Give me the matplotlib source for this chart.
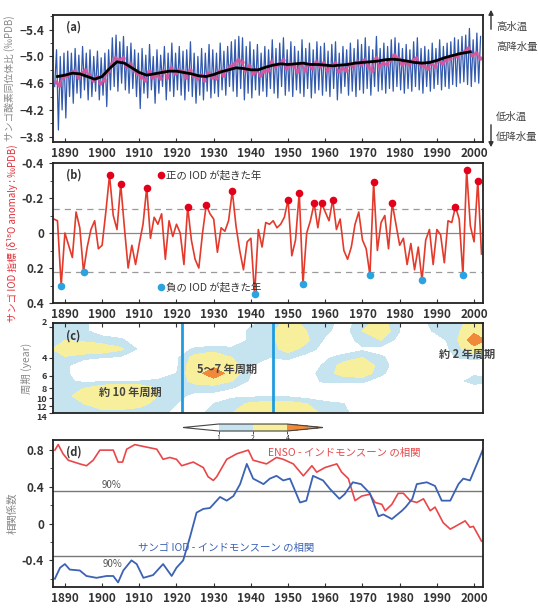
import numpy as np
import matplotlib
matplotlib.use("Agg")
import matplotlib.pyplot as plt
from matplotlib.colors import ListedColormap, BoundaryNorm
from matplotlib.ticker import MultipleLocator

plt.rcParams['font.family'] = ['Liberation Sans Narrow', 'Noto Sans CJK JP', 'DejaVu Sans']
JP = ['Noto Sans CJK JP', 'DejaVu Sans']

# ---------------- data ----------------
years = list(range(1887, 2002))  # 1887..2001

# (a) coral d18O: annual extremes of the seasonal cycle (blue), annual mean (pink), smoothed (black)
blue_top = [-5.10, -5.00, -5.05, -5.08, -5.05, -5.12, -5.02, -5.15, -5.05, -5.10,
            -5.00, -5.08, -4.98, -5.05, -5.10, -5.28, -5.32, -5.22, -5.30, -5.15,
            -5.20, -5.10, -5.05, -5.12, -5.02, -5.18, -5.00, -5.10, -5.02, -5.15,
            -5.05, -5.20, -5.05, -5.15, -5.08, -5.10, -5.22, -5.05, -5.00, -5.12,
            -5.05, -5.18, -5.10, -5.05, -5.20, -5.08, -5.15, -5.22, -5.25, -5.30,
            -5.28, -5.15, -5.22, -5.10, -5.18, -5.05, -5.15, -5.10, -5.25, -5.12,
            -5.20, -5.28, -5.10, -5.22, -5.15, -5.08, -5.25, -5.12, -5.20, -5.10,
            -5.22, -5.15, -5.20, -5.08, -5.18, -5.22, -5.05, -5.15, -5.10, -5.20,
            -5.12, -5.25, -5.18, -5.28, -5.15, -5.10, -5.30, -5.12, -5.20, -5.15,
            -5.25, -5.28, -5.20, -5.12, -5.18, -5.10, -5.22, -5.28, -5.12, -5.15,
            -5.10, -5.20, -5.12, -5.25, -5.15, -5.20, -5.22, -5.28, -5.25, -5.30,
            -5.32, -5.42, -5.25, -5.35, -5.30]
blue_bottom = [-4.55, -3.90, -4.20, -4.08, -4.40, -4.30, -4.45, -4.38, -4.50, -4.35,
               -4.40, -4.48, -4.35, -4.42, -4.25, -4.50, -4.55, -4.48, -4.60, -4.50,
               -4.45, -4.52, -4.40, -4.22, -4.45, -4.38, -4.50, -4.30, -4.45, -4.55,
               -4.35, -4.48, -4.40, -4.50, -4.42, -4.35, -4.48, -4.40, -4.30, -4.42,
               -4.35, -4.48, -4.38, -4.45, -4.40, -4.50, -4.42, -4.55, -4.48, -4.40,
               -4.52, -4.35, -4.45, -4.38, -4.50, -4.42, -4.48, -4.40, -4.52, -4.45,
               -4.38, -4.55, -4.42, -4.48, -4.40, -4.50, -4.45, -4.40, -4.52, -4.38,
               -4.45, -4.50, -4.42, -4.48, -4.40, -4.52, -4.35, -4.45, -4.55, -4.42,
               -4.48, -4.40, -4.50, -4.45, -4.52, -4.42, -4.55, -4.48, -4.50, -4.45,
               -4.52, -4.48, -4.55, -4.50, -4.45, -4.52, -4.48, -4.55, -4.50, -4.45,
               -4.55, -4.48, -4.52, -4.58, -4.50, -4.55, -4.52, -4.58, -4.55, -4.60,
               -4.62, -4.58, -4.55, -4.62, -4.60]
pink_annual = [-4.62, -4.58, -4.70, -4.72, -4.75, -4.78, -4.70, -4.76, -4.80, -4.72,
               -4.65, -4.70, -4.60, -4.65, -4.78, -4.88, -4.98, -4.95, -4.98, -4.85,
               -4.88, -4.80, -4.75, -4.70, -4.65, -4.78, -4.70, -4.72, -4.68, -4.78,
               -4.70, -4.82, -4.75, -4.80, -4.78, -4.70, -4.80, -4.72, -4.68, -4.72,
               -4.65, -4.75, -4.70, -4.68, -4.78, -4.72, -4.80, -4.85, -4.88, -4.95,
               -4.92, -4.80, -4.85, -4.75, -4.80, -4.72, -4.78, -4.80, -4.92, -4.85,
               -4.88, -4.95, -4.82, -4.88, -4.85, -4.78, -4.90, -4.80, -4.88, -4.82,
               -4.92, -4.85, -4.90, -4.80, -4.85, -4.90, -4.78, -4.82, -4.80, -4.88,
               -4.85, -4.92, -4.88, -4.95, -4.85, -4.80, -4.98, -4.85, -4.90, -4.88,
               -4.95, -5.02, -4.98, -4.88, -4.92, -4.88, -4.95, -4.98, -4.88, -4.85,
               -4.82, -4.90, -4.85, -4.95, -4.90, -4.95, -4.98, -5.02, -5.00, -5.05,
               -5.08, -5.12, -5.02, -5.05, -4.98]
smooth_years = [1888, 1890, 1892, 1894, 1896, 1898, 1900, 1902, 1904, 1906, 1908, 1910,
                1912, 1914, 1916, 1918, 1920, 1922, 1924, 1926, 1928, 1930, 1932, 1934,
                1936, 1938, 1940, 1942, 1944, 1946, 1948, 1950, 1952, 1954, 1956, 1958,
                1960, 1962, 1964, 1966, 1968, 1970, 1972, 1974, 1976, 1978, 1980, 1982,
                1984, 1986, 1988, 1990, 1992, 1994, 1996, 1998, 1999]
smooth_vals = [-4.70, -4.72, -4.75, -4.74, -4.70, -4.66, -4.70, -4.82, -4.92, -4.90,
               -4.83, -4.76, -4.72, -4.74, -4.76, -4.78, -4.78, -4.76, -4.74, -4.71,
               -4.70, -4.73, -4.77, -4.80, -4.83, -4.82, -4.80, -4.80, -4.84, -4.87,
               -4.89, -4.88, -4.89, -4.90, -4.88, -4.88, -4.87, -4.86, -4.87, -4.88,
               -4.90, -4.91, -4.92, -4.93, -4.95, -4.96, -4.95, -4.93, -4.91, -4.90,
               -4.91, -4.94, -4.98, -5.01, -5.04, -5.06, -5.07]

# (b) coral IOD index, 1887..2002
iod_years = list(range(1887, 2003))
iod_vals = [-0.08, -0.07, 0.30, 0.00, 0.07, 0.14, -0.12, -0.03, 0.22, 0.08,
            -0.02, -0.07, 0.09, 0.07, -0.12, -0.33, -0.10, -0.02, -0.28, -0.03,
            0.20, 0.07, 0.18, 0.06, -0.05, -0.26, 0.03, -0.09, -0.05, -0.11,
            0.15, -0.07, 0.02, -0.05, 0.00, 0.18, -0.15, 0.04, 0.15, 0.20,
            0.00, -0.16, -0.11, -0.08, 0.11, -0.03, -0.01, -0.07, -0.24, -0.04,
            0.10, 0.21, 0.05, 0.03, 0.35, -0.02, 0.08, -0.06, -0.05, -0.07,
            -0.03, -0.05, -0.09, -0.19, 0.13, 0.04, -0.23, 0.29, 0.00, -0.07,
            -0.17, -0.03, -0.17, -0.12, -0.07, -0.19, -0.02, -0.08, 0.10, 0.15,
            0.08, -0.05, -0.12, 0.04, 0.09, 0.24, -0.29, 0.10, -0.06, -0.10,
            0.09, -0.17, -0.05, 0.07, 0.03, 0.18, 0.06, 0.21, 0.08, 0.27,
            0.04, -0.02, 0.18, -0.02, 0.01, 0.17, -0.07, -0.06, -0.15, -0.08,
            0.24, -0.36, -0.04, 0.05, -0.30, 0.12]
pos_iod_years = [1902, 1905, 1912, 1923, 1928, 1935, 1950, 1953, 1957, 1959, 1962,
                 1973, 1978, 1995, 1998, 2001]
neg_iod_years = [1889, 1895, 1941, 1954, 1972, 1986, 1997]
iod_upper = -0.135
iod_lower = 0.225

# (c) wavelet power (rows: period, columns: year)
wav_years = [1885, 1890, 1895, 1900, 1905, 1910, 1915, 1920, 1925, 1930, 1935, 1940,
             1945, 1950, 1955, 1960, 1965, 1970, 1975, 1980, 1985, 1990, 1995, 2000, 2005]
wav_periods = [1.8, 2.2, 2.7, 3.3, 4, 4.8, 5.7, 6.8, 8, 9.5, 11.3, 14]
wav_power = [
    [1.5, 1.5, 1.2, 0.5, 0.0, 0.0, 0.0, 0.0, 0.3, 0.0, 0.0, 0.8, 1.2, 2.5, 1.5, 1.5, 0.5, 1.5, 2.5, 1.0, 0.5, 1.5, 1.5, 2.5, 2.0],
    [1.5, 1.5, 1.2, 0.5, 0.3, 0.0, 0.0, 0.0, 0.0, 0.0, 0.3, 1.2, 1.5, 3.0, 2.0, 1.2, 0.5, 2.0, 3.0, 1.0, 0.5, 1.2, 1.5, 3.5, 2.5],
    [1.5, 2.0, 1.8, 1.5, 1.2, 0.3, 0.0, 0.0, 0.0, 0.0, 0.3, 1.2, 1.5, 3.0, 2.2, 0.8, 0.3, 1.5, 2.0, 0.5, 0.3, 0.5, 1.5, 5.5, 3.0],
    [1.5, 3.0, 3.0, 2.8, 2.2, 0.8, 0.3, 0.3, 1.2, 1.5, 1.2, 1.2, 1.5, 2.5, 1.5, 0.5, 0.3, 0.8, 0.5, 0.3, 0.0, 0.0, 1.5, 3.0, 2.0],
    [1.5, 1.8, 1.2, 1.0, 0.8, 0.5, 0.5, 0.8, 2.5, 3.0, 2.0, 1.2, 1.0, 1.2, 0.5, 0.8, 1.5, 2.0, 1.2, 0.3, 0.0, 0.0, 1.0, 1.2, 1.0],
    [1.5, 1.2, 0.3, 0.0, 0.0, 0.0, 0.0, 0.8, 3.0, 3.5, 2.5, 1.0, 0.5, 0.3, 0.3, 1.2, 2.5, 3.0, 1.5, 0.3, 0.0, 0.0, 0.0, 0.3, 0.3],
    [1.5, 1.2, 0.3, 0.0, 0.0, 0.0, 0.3, 1.0, 3.0, 5.5, 2.8, 1.0, 0.3, 0.3, 0.5, 1.5, 2.5, 2.8, 1.2, 0.3, 0.0, 0.0, 0.3, 0.8, 0.5],
    [1.5, 1.2, 0.8, 0.8, 1.0, 1.0, 1.2, 1.2, 2.5, 3.0, 2.0, 0.8, 0.3, 0.3, 0.5, 1.2, 1.2, 1.2, 0.5, 0.0, 0.0, 0.0, 0.5, 1.5, 1.2],
    [1.5, 1.5, 2.0, 3.0, 3.2, 3.0, 2.0, 1.2, 1.2, 1.2, 1.0, 0.5, 0.3, 0.3, 0.0, 0.3, 0.3, 0.3, 0.0, 0.0, 0.0, 0.0, 0.0, 0.3, 0.3],
    [1.5, 1.5, 2.8, 3.5, 3.5, 3.2, 2.0, 1.2, 0.8, 0.8, 0.8, 0.8, 0.8, 0.8, 0.5, 0.5, 0.5, 0.3, 0.3, 0.0, 0.0, 0.0, 0.0, 0.0, 0.0],
    [1.5, 1.5, 2.0, 2.8, 2.8, 2.5, 1.5, 1.0, 0.8, 1.0, 1.5, 2.2, 2.5, 2.5, 2.0, 1.2, 1.0, 0.5, 0.3, 0.0, 0.0, 0.0, 0.0, 0.0, 0.0],
    [1.5, 1.5, 1.5, 1.5, 1.5, 1.2, 1.2, 0.8, 0.8, 1.2, 2.0, 3.0, 3.2, 3.2, 3.0, 1.5, 1.2, 0.5, 0.3, 0.0, 0.0, 0.0, 0.0, 0.0, 0.0],
]
wav_levels = [1, 2, 4]
regime_shifts = [1921.4, 1946.0]

# (d) running correlations
enso_years = [1887.3, 1888.2, 1889.5, 1890.9, 1894.0, 1895.8, 1897.6, 1899.4, 1903.0,
              1904.3, 1905.5, 1906.6, 1908.8, 1911.1, 1914.7, 1916.4, 1918.2, 1920.0,
              1921.4, 1924.5, 1927.2, 1928.5, 1929.9, 1930.8, 1933.5, 1936.2, 1939.3,
              1940.6, 1944.2, 1946.9, 1948.7, 1951.4, 1954.1, 1956.4, 1957.7, 1959.9,
              1963.1, 1964.4, 1966.2, 1968.0, 1969.8, 1972.0, 1973.4, 1975.2, 1976.1,
              1977.9, 1979.6, 1981.0, 1982.8, 1984.6, 1986.4, 1988.2, 1989.5, 1991.7,
              1993.6, 1995.4, 1997.6, 1998.9, 1999.8, 2002.0]
enso_corr = [0.80, 0.86, 0.76, 0.69, 0.65, 0.63, 0.69, 0.80, 0.80, 0.67, 0.67, 0.81,
             0.86, 0.84, 0.81, 0.70, 0.72, 0.70, 0.63, 0.67, 0.61, 0.51, 0.47, 0.51,
             0.70, 0.76, 0.80, 0.69, 0.65, 0.72, 0.70, 0.65, 0.52, 0.63, 0.56, 0.61,
             0.65, 0.56, 0.49, 0.25, 0.30, 0.32, 0.23, 0.21, 0.14, 0.21, 0.33, 0.33,
             0.25, 0.23, 0.27, 0.14, 0.18, 0.01, -0.06, -0.02, 0.03, -0.04, -0.03, -0.19]
coral_years = [1887.3, 1888.7, 1890.0, 1891.3, 1894.0, 1895.8, 1898.5, 1901.2, 1903.0,
               1904.3, 1905.7, 1907.9, 1909.3, 1911.1, 1913.7, 1916.4, 1918.7, 1920.0,
               1921.8, 1923.6, 1925.4, 1927.2, 1929.0, 1931.7, 1933.5, 1935.3, 1937.1,
               1938.9, 1940.6, 1943.4, 1945.1, 1946.9, 1948.7, 1950.5, 1953.2, 1954.9,
               1956.7, 1959.4, 1961.2, 1963.8, 1965.2, 1967.4, 1969.6, 1972.0, 1974.3,
               1975.6, 1977.9, 1980.6, 1981.6, 1983.4, 1984.6, 1987.3, 1989.5, 1991.3,
               1993.6, 1995.8, 1997.1, 1998.9, 2001.5, 2002.4]
coral_corr = [-0.60, -0.48, -0.44, -0.50, -0.51, -0.57, -0.59, -0.57, -0.57, -0.64,
              -0.51, -0.40, -0.44, -0.59, -0.56, -0.44, -0.57, -0.48, -0.40, -0.15,
              0.12, 0.16, 0.17, 0.29, 0.25, 0.30, 0.43, 0.65, 0.49, 0.43, 0.49, 0.52,
              0.47, 0.49, 0.23, 0.25, 0.52, 0.47, 0.38, 0.27, 0.32, 0.45, 0.43, 0.33,
              0.08, 0.10, 0.05, 0.14, 0.18, 0.27, 0.43, 0.45, 0.41, 0.25, 0.25, 0.43,
              0.49, 0.47, 0.72, 0.81]
sig90 = 0.355

# ---------------- figure ----------------
XLIM = (1886.8, 2002.4)
TICK_C = '#333333'
fig = plt.figure(figsize=(5.38, 6.08), dpi=100)
L, W = 53 / 538, 430 / 538
ax_a = fig.add_axes([L, 0.7664, W, 0.2089])
ax_b = fig.add_axes([L, 0.5016, W, 0.2303])
ax_c = fig.add_axes([L, 0.3207, W, 0.1480])
cax = fig.add_axes([183 / 538, 0.2911, 140 / 538, 0.0115])
ax_d = fig.add_axes([L, 0.0345, W, 0.2418])


def style(ax, labels=True):
    ax.set_xlim(*XLIM)
    ax.set_xticks(range(1890, 2001, 10))
    for s in ax.spines.values():
        s.set_linewidth(1.3)
        s.set_color('#222222')
    ax.tick_params(axis='both', labelsize=8.5, colors=TICK_C, width=0.8, length=3)
    ax.tick_params(axis='y', which='minor', length=2, width=0.6, colors=TICK_C)
    ax.tick_params(axis='x', direction='in', top=labels is False, bottom=labels)
    for t in ax.get_xticklabels() + ax.get_yticklabels():
        t.set_fontweight('bold')
    if not labels:
        ax.set_xticklabels([])


# (a)
n = len(years)
t_blue = np.repeat(years, 2) + np.tile([0.25, 0.75], n)
v_blue = np.column_stack([blue_bottom, blue_top]).ravel()
ax_a.plot(t_blue, v_blue, color='#3159ad', lw=0.9)
ax_a.plot(np.array(years) + 0.5, pink_annual, color='#d9559e', lw=1.3, marker='o',
          ms=2.2, alpha=0.9)
ax_a.plot(smooth_years, smooth_vals, color='black', lw=2.0)
ax_a.set_ylim(-3.72, -5.62)
ax_a.set_yticks([-5.4, -5.0, -4.6, -4.2, -3.8])
ax_a.yaxis.set_minor_locator(MultipleLocator(0.2))
ax_a.set_ylabel('サンゴ酸素同位体比 (‰PDB)', family=JP, fontsize=7, color='#888888', labelpad=3)
style(ax_a)
ax_a.text(0.03, 0.905, '(a)', transform=ax_a.transAxes, fontsize=8, fontweight='bold',
          color='#333333', va='center')

# right-hand annotations
def fp(x, y):
    return (x / 538, 1 - y / 608)

fig.add_artist(matplotlib.patches.FancyArrowPatch(fp(491, 32), fp(491, 7), transform=fig.transFigure,
               arrowstyle='-|>', mutation_scale=7, color='#333333', lw=1))
fig.add_artist(matplotlib.patches.FancyArrowPatch(fp(491, 122), fp(491, 150), transform=fig.transFigure,
               arrowstyle='-|>', mutation_scale=7, color='#333333', lw=1))
for txt, y in [('高水温', 27), ('高降水量', 47), ('低水温', 117), ('低降水量', 137)]:
    fig.text(*fp(496, y), txt, family=JP, fontsize=7.5, color='#444444', va='center')

# (b)
ax_b.axhline(0, color='#888888', lw=0.9)
for yv in (iod_upper, iod_lower):
    ax_b.axhline(yv, color='#9a9a9a', lw=0.9, dashes=(5, 4))
ax_b.plot(iod_years, iod_vals, color='#e33a2c', lw=1.2)
pos_vals = [iod_vals[iod_years.index(y)] for y in pos_iod_years]
neg_vals = [iod_vals[iod_years.index(y)] for y in neg_iod_years]
ax_b.scatter(pos_iod_years, pos_vals, s=20, color='#e3001b', zorder=4)
ax_b.scatter(neg_iod_years, neg_vals, s=20, color='#2aa3e0', zorder=4)
ax_b.set_ylim(0.4, -0.4)
ax_b.set_yticks([-0.4, -0.2, 0, 0.2, 0.4])
ax_b.set_yticklabels(['-0.4', '-0.2', '0', '0.2', '0.4'])
ax_b.yaxis.set_minor_locator(MultipleLocator(0.1))
ax_b.set_ylabel('サンゴ IOD 指標 (δ¹⁸O anomaly : ‰PDB)', family=JP, fontsize=7,
                color='#e0303a', labelpad=3)
style(ax_b)
ax_b.text(0.03, 0.914, '(b)', transform=ax_b.transAxes, fontsize=8, fontweight='bold',
          color='#333333', va='center')
ax_b.scatter([0.251], [0.914], s=20, color='#e3001b', transform=ax_b.transAxes, clip_on=False)
ax_b.text(0.263, 0.914, '正の IOD が起きた年', transform=ax_b.transAxes, family=JP,
          fontsize=7.5, color='#333333', va='center')
ax_b.scatter([0.251], [0.114], s=20, color='#2aa3e0', transform=ax_b.transAxes, clip_on=False)
ax_b.text(0.263, 0.114, '負の IOD が起きた年', transform=ax_b.transAxes, family=JP,
          fontsize=7.5, color='#333333', va='center')

# (c)
cmap = ListedColormap(['#c6e4ef', '#f7ef9c']).with_extremes(under='white', over='#f08a3a')
norm = BoundaryNorm(wav_levels, cmap.N)
cs = ax_c.contourf(wav_years, wav_periods, wav_power, levels=wav_levels, cmap=cmap,
                   norm=norm, extend='both')
for xv in range(1890, 2001, 10):
    ax_c.axvline(xv, color='#f0f0f0', lw=0.6, zorder=0.5)
for xv in regime_shifts:
    ax_c.axvline(xv, color='#1f9ce0', lw=2.0)
ax_c.set_yscale('log', base=2)
ax_c.set_ylim(14, 1.83)
ax_c.set_yticks([2, 4, 6, 8, 10, 12, 14])
ax_c.set_yticklabels(['2', '4', '6', '8', '10', '12', '14'])
ax_c.yaxis.set_minor_locator(matplotlib.ticker.NullLocator())
ax_c.set_ylabel('周期 (year)', family=JP, fontsize=7.5, color='#888888', labelpad=3)
style(ax_c, labels=False)
ax_c.tick_params(axis='y', labelsize=6.5, pad=1.5)
for t in ax_c.get_yticklabels():
    t.set_fontweight('bold')
ax_c.get_yticklabels()[-1].set_va('top')
ax_c.get_yticklabels()[0].set_va('bottom')
ax_c.text(0.03, 0.855, '(c)', transform=ax_c.transAxes, fontsize=8, fontweight='bold',
          color='#333333', va='center')
ax_c.text(1907.5, 8.8, '約 10 年周期', family=JP, fontsize=8, fontweight='bold',
          color='#444444', ha='center', va='center')
ax_c.text(1933.6, 5.2, '5〜7 年周期', family=JP, fontsize=8, fontweight='bold',
          color='#444444', ha='center', va='center')
ax_c.text(1998.0, 3.75, '約 2 年周期', family=JP, fontsize=8, fontweight='bold',
          color='#444444', ha='center', va='center', clip_on=False)

cb = fig.colorbar(cs, cax=cax, orientation='horizontal', ticks=wav_levels, extendfrac=0.52)
cb.outline.set_edgecolor('#444444')
cb.outline.set_linewidth(0.8)
cax.tick_params(labelsize=5, length=2, pad=0.5, colors='#333333', width=0.6)

# (d)
ax_d.axhline(sig90, color='#777777', lw=1.0)
ax_d.axhline(-sig90, color='#777777', lw=1.0)
ax_d.plot(enso_years, enso_corr, color='#e8474a', lw=1.2)
ax_d.plot(coral_years, coral_corr, color='#3b62b3', lw=1.3)
ax_d.set_ylim(-0.69, 0.91)
ax_d.set_yticks([-0.4, 0, 0.4, 0.8])
ax_d.set_yticklabels(['-0.4', '0', '0.4', '0.8'])
ax_d.yaxis.set_minor_locator(MultipleLocator(0.2))
ax_d.set_ylabel('相関係数', family=JP, fontsize=7.5, color='#888888', labelpad=3)
style(ax_d)
ax_d.text(0.03, 0.918, '(d)', transform=ax_d.transAxes, fontsize=8, fontweight='bold',
          color='#333333', va='center')
ax_d.text(1902.6, 0.415, '90%', fontsize=7, color='#555555', ha='center', va='center')
ax_d.text(1902.9, -0.44, '90%', fontsize=7, color='#555555', ha='center', va='center')
ax_d.text(1944.6, 0.77, 'ENSO - インドモンスーン の相関', family=JP, fontsize=7.5,
          color='#e8474a', va='center')
ax_d.text(1909.6, -0.26, 'サンゴ IOD - インドモンスーン の相関', family=JP, fontsize=7.5,
          color='#3b62b3', va='center')

fig.savefig('out.png', dpi=100)
